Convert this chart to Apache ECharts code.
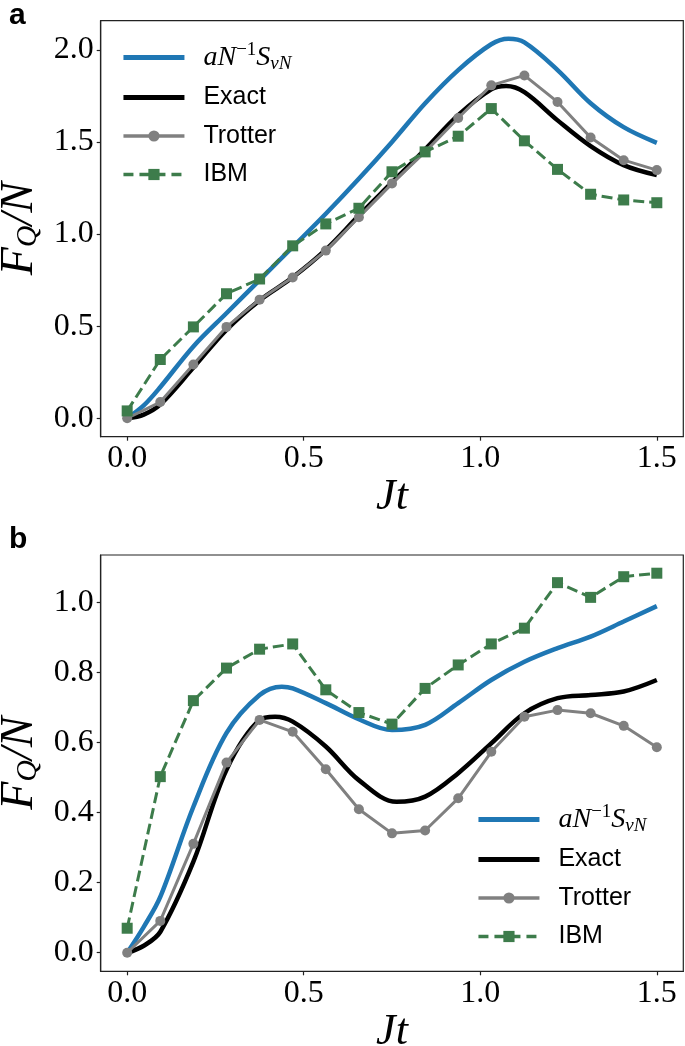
<!DOCTYPE html>
<html><head><meta charset="utf-8">
<script src="https://cdn.jsdelivr.net/npm/echarts@6/dist/echarts.min.js"></script>
<style>html,body{margin:0;padding:0;background:#fff}#c{width:685px;height:1046px}</style>
</head><body><div id="c"></div>
<script>
// ---- data ----
const xTicks = [0, 0.5, 1.0, 1.5];
const yTicksA = [0, 0.5, 1.0, 1.5, 2.0];
const yTicksB = [0, 0.2, 0.4, 0.6, 0.8, 1.0];

const sampleX = [0, 0.09375, 0.1875, 0.28125, 0.375, 0.46875, 0.5625, 0.65625, 0.75, 0.84375, 0.9375, 1.03125, 1.125, 1.21875, 1.3125, 1.40625, 1.5];

// panel a
const trotterA = [0, 0.088, 0.292, 0.496, 0.644, 0.764, 0.91, 1.091, 1.275, 1.446, 1.63, 1.807, 1.861, 1.717, 1.524, 1.401, 1.347];
const ibmA     = [0.04, 0.319, 0.496, 0.676, 0.756, 0.936, 1.055, 1.14, 1.338, 1.446, 1.531, 1.681, 1.506, 1.351, 1.216, 1.185, 1.17];
const svnAX    = [0, 0.047, 0.094, 0.1875, 0.281, 0.375, 0.469, 0.5625, 0.656, 0.75, 0.844, 0.9375, 1.031, 1.08, 1.125, 1.219, 1.3125, 1.406, 1.5];
const svnA     = [0, 0.07, 0.17, 0.39, 0.57, 0.75, 0.93, 1.11, 1.30, 1.50, 1.71, 1.89, 2.03, 2.06, 2.04, 1.89, 1.71, 1.58, 1.495];
const exactAX  = [0, 0.047, 0.094, 0.1875, 0.281, 0.375, 0.469, 0.5625, 0.656, 0.75, 0.844, 0.9375, 1.031, 1.073, 1.125, 1.219, 1.3125, 1.406, 1.5];
const exactA   = [0, 0.02, 0.075, 0.275, 0.48, 0.64, 0.765, 0.915, 1.10, 1.28, 1.46, 1.645, 1.785, 1.803, 1.77, 1.617, 1.477, 1.374, 1.32];

// panel b
const trotterB = [0, 0.091, 0.311, 0.543, 0.665, 0.631, 0.524, 0.41, 0.341, 0.349, 0.441, 0.574, 0.674, 0.693, 0.684, 0.648, 0.587];
const ibmB     = [0.07, 0.503, 0.72, 0.813, 0.867, 0.882, 0.751, 0.686, 0.653, 0.755, 0.822, 0.882, 0.927, 1.057, 1.015, 1.074, 1.084];
const svnBX    = [0, 0.047, 0.094, 0.1875, 0.281, 0.375, 0.438, 0.469, 0.5625, 0.656, 0.75, 0.844, 0.9375, 1.031, 1.125, 1.219, 1.3125, 1.406, 1.5];
const svnB     = [0, 0.074, 0.16, 0.417, 0.627, 0.736, 0.76, 0.755, 0.713, 0.667, 0.636, 0.651, 0.713, 0.779, 0.831, 0.87, 0.903, 0.946, 0.99];
const exactBX  = [0, 0.047, 0.094, 0.1875, 0.281, 0.375, 0.419, 0.469, 0.5625, 0.656, 0.763, 0.844, 0.9375, 1.031, 1.125, 1.219, 1.3125, 1.406, 1.5];
const exactB   = [0, 0.02, 0.06, 0.26, 0.522, 0.665, 0.674, 0.66, 0.589, 0.493, 0.431, 0.446, 0.513, 0.598, 0.684, 0.727, 0.736, 0.746, 0.779];

const names = ['aN^{-1}S_{vN}', 'Exact', 'Trotter', 'IBM'];

// ---- chart ----
const zip = (xs, ys) => xs.map((x, i) => [x, ys[i]]);
const SERIF = 'Liberation Serif';
const SANS = 'Liberation Sans';
const FRAME = '#222';
const BLUE = '#1f77b4';
const GRAY = '#808080';
const GREEN = '#3d7c4b';

function xAxisCfg(g) {
  return {
    gridIndex: g, type: 'value', min: -0.075, max: 1.575,
    axisLine: { show: true, onZero: false, lineStyle: { color: FRAME, width: 1.2 } },
    axisTick: { show: true, length: 4, customValues: xTicks, lineStyle: { color: FRAME, width: 1.2 } },
    axisLabel: { customValues: xTicks, formatter: v => v.toFixed(1), fontFamily: SERIF, fontSize: 32, color: '#000', margin: 6 },
    splitLine: { show: false },
    name: 'Jt', nameLocation: 'middle', nameGap: 39,
    nameTextStyle: { fontFamily: SERIF, fontStyle: 'italic', fontSize: 44, color: '#000' }
  };
}
function yAxisCfg(g, min, max, ticks) {
  return {
    gridIndex: g, type: 'value', min: min, max: max,
    axisLine: { show: true, onZero: false, lineStyle: { color: FRAME, width: 1.2 } },
    axisTick: { show: true, length: 4, customValues: ticks, lineStyle: { color: FRAME, width: 1.2 } },
    axisLabel: { customValues: ticks, formatter: v => v.toFixed(1), fontFamily: SERIF, fontSize: 32, color: '#000', margin: 7 },
    splitLine: { show: false },
    name: '{m|F}{s|Q}{m|/N}', nameLocation: 'middle', nameGap: 53, nameRotate: 90,
    nameTextStyle: {
      color: '#000',
      rich: {
        m: { fontFamily: SERIF, fontStyle: 'italic', fontSize: 46, lineHeight: 48, verticalAlign: 'bottom' },
        s: { fontFamily: SERIF, fontStyle: 'italic', fontSize: 30, lineHeight: 30, verticalAlign: 'bottom' }
      }
    }
  };
}

function seriesFor(g, sx, sy, ex, ey, tr, ib) {
  return [
    { name: names[0], type: 'line', xAxisIndex: g, yAxisIndex: g, data: zip(sx, sy), smooth: 0.35,
      symbol: 'none', lineStyle: { color: BLUE, width: 4.5 }, itemStyle: { color: BLUE }, z: 2 },
    { name: names[1], type: 'line', xAxisIndex: g, yAxisIndex: g, data: zip(ex, ey), smooth: 0.35,
      symbol: 'none', lineStyle: { color: '#000', width: 4.5 }, itemStyle: { color: '#000' }, z: 3 },
    { name: names[2], type: 'line', xAxisIndex: g, yAxisIndex: g, data: zip(sampleX, tr),
      symbol: 'circle', symbolSize: 10, lineStyle: { color: GRAY, width: 3 }, itemStyle: { color: GRAY }, z: 4 },
    { name: names[3], type: 'line', xAxisIndex: g, yAxisIndex: g, data: zip(sampleX, ib),
      symbol: 'rect', symbolSize: 11, lineStyle: { color: GREEN, width: 3, type: [11, 5] }, itemStyle: { color: GREEN }, z: 5 }
  ];
}

const legendRich = {
  m: { fontFamily: SERIF, fontStyle: 'italic', fontSize: 28, lineHeight: 30, verticalAlign: 'middle' },
  sup: { fontFamily: SERIF, fontSize: 19, lineHeight: 30, verticalAlign: 'middle', padding: [0, 0, 14, 0] },
  sub: { fontFamily: SERIF, fontStyle: 'italic', fontSize: 19, lineHeight: 30, verticalAlign: 'middle', padding: [12, 0, 0, 0] },
  t: { fontFamily: SANS, fontSize: 25, lineHeight: 30, verticalAlign: 'middle' }
};
const BAR = 'path://M0,0H61V5H0Z';
function legendCfg(left, top) {
  return {
    data: [
      { name: names[0], icon: BAR, itemStyle: { color: BLUE } },
      { name: names[1], icon: BAR, itemStyle: { color: '#000' } },
      { name: names[2], lineStyle: { width: 3.5, color: GRAY } },
      { name: names[3], lineStyle: { width: 3.5, color: GREEN, type: [10, 6] } }
    ],
    orient: 'vertical', left: left, top: top, itemWidth: 61, itemHeight: 14, itemGap: 8.5,
    selectedMode: false,
    textStyle: { color: '#000', fontFamily: SANS, fontSize: 25, lineHeight: 30, padding: [0, 0, 0, 14], rich: legendRich },
    formatter: n => n === names[0] ? '{m|aN}{sup|−1}{m|S}{sub|vN}' : '{t|' + n + '}'
  };
}

const option = {
  animation: false,
  backgroundColor: '#fff',
  title: [
    { text: 'a', left: 4, top: -4, textStyle: { fontFamily: SANS, fontWeight: 'bold', fontSize: 30, color: '#000' } },
    { text: 'b', left: 4, top: 520, textStyle: { fontFamily: SANS, fontWeight: 'bold', fontSize: 30, color: '#000' } }
  ],
  grid: [
    { left: 100.7, right: 1.7, top: 20.7, bottom: 1046 - 436.7, show: true, borderColor: FRAME, borderWidth: 1.2, containLabel: false, outerBoundsMode: 'none' },
    { left: 100.7, right: 1.7, top: 555, bottom: 1046 - 971.3, show: true, borderColor: FRAME, borderWidth: 1.2, containLabel: false, outerBoundsMode: 'none' }
  ],
  xAxis: [xAxisCfg(0), xAxisCfg(1)],
  yAxis: [yAxisCfg(0, -0.1, 2.158, yTicksA), yAxisCfg(1, -0.053, 1.136, yTicksB)],
  legend: [legendCfg(116.7, 36), legendCfg(471.7, 798)],
  series: [
    ...seriesFor(0, svnAX, svnA, exactAX, exactA, trotterA, ibmA),
    ...seriesFor(1, svnBX, svnB, exactBX, exactB, trotterB, ibmB)
  ]
};
const chart = echarts.init(document.getElementById('c'), null, { renderer: 'canvas' });
chart.setOption(option);
</script></body></html>
